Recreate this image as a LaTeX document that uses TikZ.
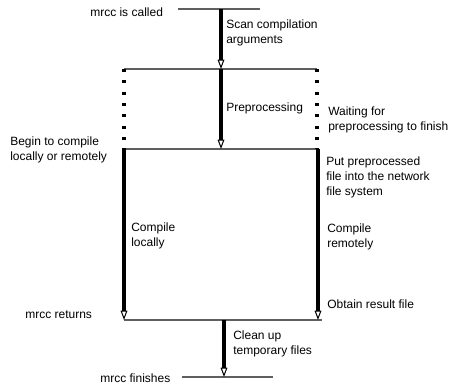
\documentclass[tikz,border=0pt]{standalone}
\usepackage{fontspec}
\setmainfont{Liberation Sans}
\usetikzlibrary{arrows.meta}
\definecolor{lgray}{RGB}{95,95,95}
\tikzset{
  lbl/.style={anchor=west, align=left, inner sep=0pt, font=\fontsize{9}{11.25}\selectfont},
  thin/.style={draw=lgray, line width=0.8pt},
  flow/.style={line width=2.4pt, -{Triangle[open, length=7pt, width=5pt, line width=0.75pt]}},
  wait/.style={line width=2.3pt, dash pattern=on 2.3pt off 6.2pt}
}
\begin{document}
\begin{tikzpicture}[x=0.75pt, y=-0.75pt]
\useasboundingbox (0,0) rectangle (456,385);
% coordinates
\coordinate (t1) at (178,9);
\coordinate (t2) at (260,9);
\coordinate (a0) at (221,9);
\coordinate (l2a) at (124,69);
\coordinate (l2b) at (317,69);
\coordinate (a1) at (221,69);
\coordinate (l3a) at (124,149);
\coordinate (l3b) at (318,149);
\coordinate (a2) at (221,149);
\coordinate (l3d) at (317,149);
\coordinate (l4a) at (124,320);
\coordinate (l4r) at (318,320);
\coordinate (l4b) at (322,320);
\coordinate (a3) at (224,320);
\coordinate (l5a) at (182,377);
\coordinate (l5b) at (273,377);
\coordinate (a4) at (224,377);
% thin lines
\draw[thin] (t1) -- (t2);
\draw[thin] (l2a) -- (l2b);
\draw[thin] (l3a) -- (l3b);
\draw[thin] (l4a) -- (l4b);
\draw[thin] (l5a) -- (l5b);
% dotted waits
\draw[wait] (l2a) -- (l3a);
\draw[wait] (l2b) -- (l3d);
% flows
\draw[flow] (a0) -- (a1);
\draw[flow] (a1) -- (a2);
\draw[flow] (l3a) -- (l4a);
\draw[flow] (l3b) -- (l4r);
\draw[flow] (a3) -- (a4);
% labels
\node[lbl] (called) at (90,12) {mrcc is called};
\node[lbl] (scan) at (226,32.5) {Scan compilation\\arguments};
\node[lbl] (pre) at (226,108) {Preprocessing};
\node[lbl] (waitt) at (328,119.5) {Waiting for\\preprocessing to finish};
\node[lbl] (begin) at (10,150) {Begin to compile\\locally or remotely};
\node[lbl] (cl) at (131,236) {Compile\\locally};
\node[lbl] (put) at (326,177) {Put preprocessed\\file into the network\\file system};
\node[lbl] (cr) at (327,236.5) {Compile\\remotely};
\node[lbl] (obt) at (327,304) {Obtain result file};
\node[lbl] (ret) at (25,315) {mrcc returns};
\node[lbl] (clean) at (233,344) {Clean up\\temporary files};
\node[lbl] (fin) at (100,378) {mrcc finishes};
\end{tikzpicture}
\end{document}
